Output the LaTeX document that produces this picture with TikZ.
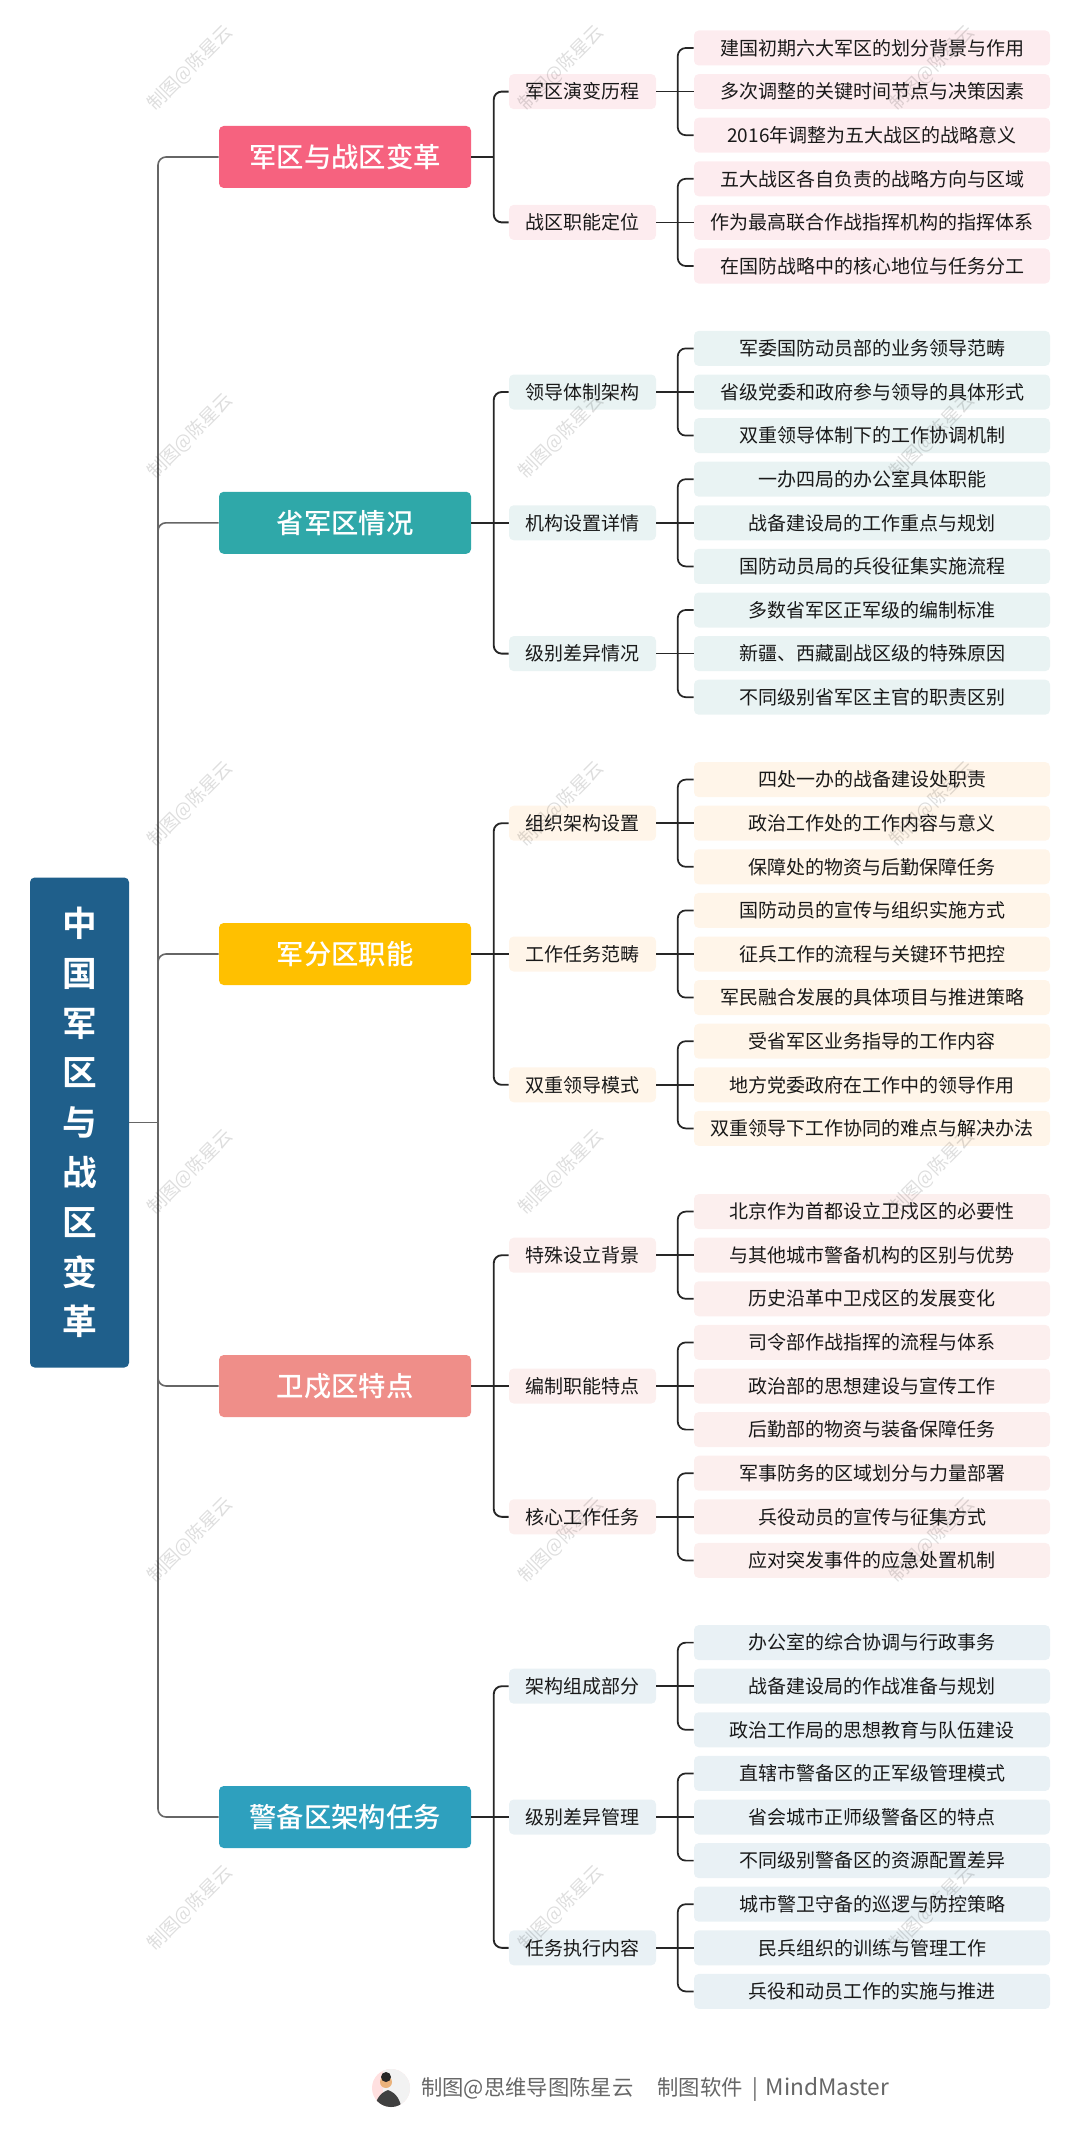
\documentclass[tikz,border=0pt]{standalone}
\usepackage{fontspec}
\setmainfont[BoldFont={Noto Sans CJK SC Medium}]{Noto Sans CJK SC}
\newfontfamily\rootfont{Noto Sans CJK SC Bold}
\usetikzlibrary{positioning, calc}

% Colours of the five branches
\definecolor{rootblue}{HTML}{1F5F8B}
\definecolor{toppink}{HTML}{F6627F}
\definecolor{topteal}{HTML}{2FA8A9}
\definecolor{topamber}{HTML}{FFC000}
\definecolor{topsalmon}{HTML}{EF8E89}
\definecolor{topblue}{HTML}{2EA0BE}
\definecolor{softpink}{HTML}{FDECEF}
\definecolor{softteal}{HTML}{E9F3F3}
\definecolor{softamber}{HTML}{FFF5E9}
\definecolor{softsalmon}{HTML}{FCEFEE}
\definecolor{softblue}{HTML}{E9F1F5}

\begin{document}
\begin{tikzpicture}[
    x=0.75pt, y=-0.75pt,
    % Styles
    root/.style={ % Central topic
        rectangle,
        rounded corners=3.5pt,
        fill=rootblue,
        text=white,
        inner sep=0pt,
        minimum width=74.25pt,
        minimum height=367.5pt,
        align=center,
        font=\fontsize{26}{37.35}\selectfont\rootfont
    },
    top/.style={ % Main branch
        rectangle,
        rounded corners=3.5pt,
        text=white,
        inner sep=0pt,
        minimum width=189pt,
        minimum height=46.5pt,
        font=\fontsize{20.5}{24}\selectfont\bfseries
    },
    mid/.style={ % Second level
        rectangle,
        rounded corners=3.5pt,
        text=black!90,
        inner sep=0pt,
        minimum width=110.25pt,
        minimum height=26.25pt,
        font=\fontsize{14.25}{17}\selectfont
    },
    leaf/.style={ % Third level
        mid,
        minimum width=267pt
    },
    trunkline/.style={ % Lines from the central topic
        draw=black!60,
        line width=1.2pt,
        rounded corners=6pt
    },
    midline/.style={ % Lines of the second level
        draw=black!85,
        line width=1.4pt,
        rounded corners=6pt
    },
    leafline/.style={ % Lines of the third level
        draw=black!85,
        line width=1.3pt,
        rounded corners=6pt
    },
    wmark/.style={ % Diagonal signature
        rotate=45,
        text=black,
        text opacity=0.13,
        font=\fontsize{14}{17}\selectfont
    },
    footer/.style={ % Line at the bottom
        text=black!60,
        anchor=west,
        inner sep=0pt,
        font=\fontsize{16}{19}\selectfont
    }
]
    \useasboundingbox (0,0) rectangle (1080,2151);

    % Central topic and trunk
    \node [root] (root) at (79.5,1122.5) {中\\国\\军\\区\\与\\战\\区\\变\\革};
    \coordinate (trunk) at (158,1122.5);

    % Main branches
    \node [top, fill=toppink] (top1) at (345,157) {军区与战区变革};
    \node [top, fill=topteal] (top2) at (345,522.8) {省军区情况};
    \node [top, fill=topamber] (top3) at (345,954) {军分区职能};
    \node [top, fill=topsalmon] (top4) at (345,1386) {卫戍区特点};
    \node [top, fill=topblue] (top5) at (345,1817) {警备区架构任务};

    % Second level
    \node [mid, fill=softpink] (m11) at (582.5,91.6) {军区演变历程};
    \node [mid, fill=softpink] (m12) at (582.5,222.4) {战区职能定位};
    \node [mid, fill=softteal] (m21) at (582.5,392) {领导体制架构};
    \node [mid, fill=softteal] (m22) at (582.5,522.8) {机构设置详情};
    \node [mid, fill=softteal] (m23) at (582.5,653.6) {级别差异情况};
    \node [mid, fill=softamber] (m31) at (582.5,823.2) {组织架构设置};
    \node [mid, fill=softamber] (m32) at (582.5,954) {工作任务范畴};
    \node [mid, fill=softamber] (m33) at (582.5,1084.8) {双重领导模式};
    \node [mid, fill=softsalmon] (m41) at (582.5,1255.2) {特殊设立背景};
    \node [mid, fill=softsalmon] (m42) at (582.5,1386) {编制职能特点};
    \node [mid, fill=softsalmon] (m43) at (582.5,1516.8) {核心工作任务};
    \node [mid, fill=softblue] (m51) at (582.5,1686.2) {架构组成部分};
    \node [mid, fill=softblue] (m52) at (582.5,1817) {级别差异管理};
    \node [mid, fill=softblue] (m53) at (582.5,1947.8) {任务执行内容};

    % Third level, first branch
    \node [leaf, fill=softpink] (l111) at (872,48) {建国初期六大军区的划分背景与作用};
    \node [leaf, fill=softpink] (l112) at (872,91.6) {多次调整的关键时间节点与决策因素};
    \node [leaf, fill=softpink] (l113) at (872,135.2) {2016年调整为五大战区的战略意义};
    \node [leaf, fill=softpink] (l121) at (872,178.8) {五大战区各自负责的战略方向与区域};
    \node [leaf, fill=softpink] (l122) at (872,222.4) {作为最高联合作战指挥机构的指挥体系};
    \node [leaf, fill=softpink] (l123) at (872,266) {在国防战略中的核心地位与任务分工};

    % Third level, second branch
    \node [leaf, fill=softteal] (l211) at (872,348.4) {军委国防动员部的业务领导范畴};
    \node [leaf, fill=softteal] (l212) at (872,392) {省级党委和政府参与领导的具体形式};
    \node [leaf, fill=softteal] (l213) at (872,435.6) {双重领导体制下的工作协调机制};
    \node [leaf, fill=softteal] (l221) at (872,479.2) {一办四局的办公室具体职能};
    \node [leaf, fill=softteal] (l222) at (872,522.8) {战备建设局的工作重点与规划};
    \node [leaf, fill=softteal] (l223) at (872,566.4) {国防动员局的兵役征集实施流程};
    \node [leaf, fill=softteal] (l231) at (872,610) {多数省军区正军级的编制标准};
    \node [leaf, fill=softteal] (l232) at (872,653.6) {新疆、西藏副战区级的特殊原因};
    \node [leaf, fill=softteal] (l233) at (872,697.2) {不同级别省军区主官的职责区别};

    % Third level, third branch
    \node [leaf, fill=softamber] (l311) at (872,779.6) {四处一办的战备建设处职责};
    \node [leaf, fill=softamber] (l312) at (872,823.2) {政治工作处的工作内容与意义};
    \node [leaf, fill=softamber] (l313) at (872,866.8) {保障处的物资与后勤保障任务};
    \node [leaf, fill=softamber] (l321) at (872,910.4) {国防动员的宣传与组织实施方式};
    \node [leaf, fill=softamber] (l322) at (872,954) {征兵工作的流程与关键环节把控};
    \node [leaf, fill=softamber] (l323) at (872,997.6) {军民融合发展的具体项目与推进策略};
    \node [leaf, fill=softamber] (l331) at (872,1041.2) {受省军区业务指导的工作内容};
    \node [leaf, fill=softamber] (l332) at (872,1084.8) {地方党委政府在工作中的领导作用};
    \node [leaf, fill=softamber] (l333) at (872,1128.4) {双重领导下工作协同的难点与解决办法};

    % Third level, fourth branch
    \node [leaf, fill=softsalmon] (l411) at (872,1211.6) {北京作为首都设立卫戍区的必要性};
    \node [leaf, fill=softsalmon] (l412) at (872,1255.2) {与其他城市警备机构的区别与优势};
    \node [leaf, fill=softsalmon] (l413) at (872,1298.8) {历史沿革中卫戍区的发展变化};
    \node [leaf, fill=softsalmon] (l421) at (872,1342.4) {司令部作战指挥的流程与体系};
    \node [leaf, fill=softsalmon] (l422) at (872,1386) {政治部的思想建设与宣传工作};
    \node [leaf, fill=softsalmon] (l423) at (872,1429.6) {后勤部的物资与装备保障任务};
    \node [leaf, fill=softsalmon] (l431) at (872,1473.2) {军事防务的区域划分与力量部署};
    \node [leaf, fill=softsalmon] (l432) at (872,1516.8) {兵役动员的宣传与征集方式};
    \node [leaf, fill=softsalmon] (l433) at (872,1560.4) {应对突发事件的应急处置机制};

    % Third level, fifth branch
    \node [leaf, fill=softblue] (l511) at (872,1642.6) {办公室的综合协调与行政事务};
    \node [leaf, fill=softblue] (l512) at (872,1686.2) {战备建设局的作战准备与规划};
    \node [leaf, fill=softblue] (l513) at (872,1729.8) {政治工作局的思想教育与队伍建设};
    \node [leaf, fill=softblue] (l521) at (872,1773.4) {直辖市警备区的正军级管理模式};
    \node [leaf, fill=softblue] (l522) at (872,1817) {省会城市正师级警备区的特点};
    \node [leaf, fill=softblue] (l523) at (872,1860.6) {不同级别警备区的资源配置差异};
    \node [leaf, fill=softblue] (l531) at (872,1904.2) {城市警卫守备的巡逻与防控策略};
    \node [leaf, fill=softblue] (l532) at (872,1947.8) {民兵组织的训练与管理工作};
    \node [leaf, fill=softblue] (l533) at (872,1991.4) {兵役和动员工作的实施与推进};

    % Lines from the central topic
    \draw [trunkline] (root.east) -- (trunk);
    \draw [trunkline] (top1.west) -| (trunk);
    \draw [trunkline] (top2.west) -| (trunk);
    \draw [trunkline] (top3.west) -| (trunk);
    \draw [trunkline] (top4.west) -| (trunk);
    \draw [trunkline] (top5.west) -| (trunk);

    % Lines of the second level
    \draw [midline] (m11.west) -- ++(-15,0) |- (m12.west);
    \draw [midline] (top1.east) -- ++(23,0);
    \draw [midline] (m21.west) -- ++(-15,0) |- (m23.west);
    \draw [midline] (top2.east) -- (m22.west);
    \draw [midline] (m31.west) -- ++(-15,0) |- (m33.west);
    \draw [midline] (top3.east) -- (m32.west);
    \draw [midline] (m41.west) -- ++(-15,0) |- (m43.west);
    \draw [midline] (top4.east) -- (m42.west);
    \draw [midline] (m51.west) -- ++(-15,0) |- (m53.west);
    \draw [midline] (top5.east) -- (m52.west);

    % Lines of the third level
    \draw [leafline] (l111.west) -- ++(-16,0) |- (l113.west);
    \draw [leafline] (m11.east) -- (l112.west);
    \draw [leafline] (l121.west) -- ++(-16,0) |- (l123.west);
    \draw [leafline] (m12.east) -- (l122.west);
    \draw [leafline] (l211.west) -- ++(-16,0) |- (l213.west);
    \draw [leafline] (m21.east) -- (l212.west);
    \draw [leafline] (l221.west) -- ++(-16,0) |- (l223.west);
    \draw [leafline] (m22.east) -- (l222.west);
    \draw [leafline] (l231.west) -- ++(-16,0) |- (l233.west);
    \draw [leafline] (m23.east) -- (l232.west);
    \draw [leafline] (l311.west) -- ++(-16,0) |- (l313.west);
    \draw [leafline] (m31.east) -- (l312.west);
    \draw [leafline] (l321.west) -- ++(-16,0) |- (l323.west);
    \draw [leafline] (m32.east) -- (l322.west);
    \draw [leafline] (l331.west) -- ++(-16,0) |- (l333.west);
    \draw [leafline] (m33.east) -- (l332.west);
    \draw [leafline] (l411.west) -- ++(-16,0) |- (l413.west);
    \draw [leafline] (m41.east) -- (l412.west);
    \draw [leafline] (l421.west) -- ++(-16,0) |- (l423.west);
    \draw [leafline] (m42.east) -- (l422.west);
    \draw [leafline] (l431.west) -- ++(-16,0) |- (l433.west);
    \draw [leafline] (m43.east) -- (l432.west);
    \draw [leafline] (l511.west) -- ++(-16,0) |- (l513.west);
    \draw [leafline] (m51.east) -- (l512.west);
    \draw [leafline] (l521.west) -- ++(-16,0) |- (l523.west);
    \draw [leafline] (m52.east) -- (l522.west);
    \draw [leafline] (l531.west) -- ++(-16,0) |- (l533.west);
    \draw [leafline] (m53.east) -- (l532.west);

    % Signature across the page
    \node [wmark] (w11) at (190,68) {制图@陈星云};
    \node [wmark] (w12) at (561,68) {制图@陈星云};
    \node [wmark] (w13) at (932,68) {制图@陈星云};
    \node [wmark] (w21) at (190,436) {制图@陈星云};
    \node [wmark] (w22) at (561,436) {制图@陈星云};
    \node [wmark] (w23) at (932,436) {制图@陈星云};
    \node [wmark] (w31) at (190,804) {制图@陈星云};
    \node [wmark] (w32) at (561,804) {制图@陈星云};
    \node [wmark] (w33) at (932,804) {制图@陈星云};
    \node [wmark] (w41) at (190,1172) {制图@陈星云};
    \node [wmark] (w42) at (561,1172) {制图@陈星云};
    \node [wmark] (w43) at (932,1172) {制图@陈星云};
    \node [wmark] (w51) at (190,1540) {制图@陈星云};
    \node [wmark] (w52) at (561,1540) {制图@陈星云};
    \node [wmark] (w53) at (932,1540) {制图@陈星云};
    \node [wmark] (w61) at (190,1908) {制图@陈星云};
    \node [wmark] (w62) at (561,1908) {制图@陈星云};
    \node [wmark] (w63) at (932,1908) {制图@陈星云};

    % Footer with round portrait
    \node [circle, fill=red!12, inner sep=0pt, minimum size=28.5pt] (face) at (391,2088) {};
    \begin{scope}
        \clip (391,2088) circle (19);
        \fill [black!5] (383,2066) rectangle (412,2108);
        \fill [black!75] (374,2110) to[out=80, in=200] (388,2090) to[out=-20, in=100] (402,2110) -- cycle;
        \fill [orange!45!brown!60] (386,2082) circle (6);
        \fill [black!85] (386,2077) circle (5);
    \end{scope}
    \node [footer] (foot) at (421,2089) {制图@思维导图陈星云\hspace{18pt}制图软件\hspace{7pt}|\hspace{6pt}{\fontsize{17}{19}\selectfont MindMaster}};
\end{tikzpicture}
\end{document}
